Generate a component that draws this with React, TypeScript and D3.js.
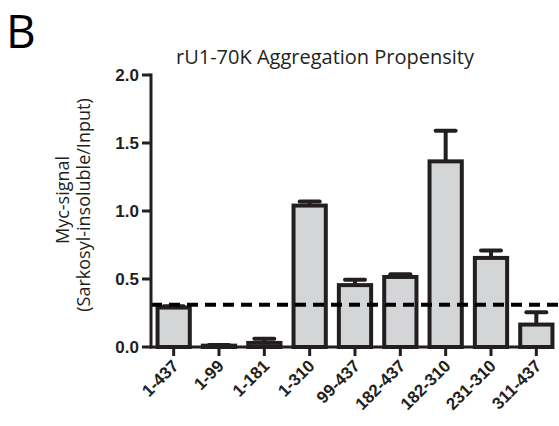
import React from 'react'
import * as d3 from 'd3'

const categories = ['1-437', '1-99', '1-181', '1-310', '99-437', '182-437', '182-310', '231-310', '311-437']
const means = [0.29, 0.01, 0.03, 1.04, 0.455, 0.515, 1.365, 0.655, 0.165]
const errors = [0.01, 0.005, 0.03, 0.03, 0.04, 0.02, 0.225, 0.055, 0.09]
const yTicks = [0, 0.5, 1.0, 1.5, 2.0]
const threshold = 0.31

const W = 559
const H = 426
const ink = '#231f20'

export default function App() {
  const x = d3.scaleBand<string>().domain(categories).range([151, 559]).paddingInner(0.2).paddingOuter(0.1)
  const y = d3.scaleLinear().domain([0, 2]).range([347, 75])
  const bw = x.bandwidth()

  return (
    <svg width={W} height={H} style={{ position: 'absolute', left: 0, top: 0, background: '#fff' }}>
      <text x={6} y={48} fontFamily="Open Sans" fontSize={46} fill="#000">B</text>
      <text x={325} y={64} textAnchor="middle" fontFamily="Open Sans" fontSize={20} fill={ink}>
        rU1-70K Aggregation Propensity
      </text>

      {/* y label */}
      <g transform={`translate(0,205) rotate(-90)`} fontFamily="Open Sans" fontSize={18} fill={ink} textAnchor="middle">
        <text x={5} y={69}>Myc-signal</text>
        <text x={0} y={90}>(Sarkosyl-insoluble/Input)</text>
      </g>

      {/* bars */}
      {categories.map((c, i) => {
        const cx = x(c)! + bw / 2
        const top = y(means[i])
        const cap = y(means[i] + errors[i])
        return (
          <g key={c}>
            <line x1={cx} x2={cx} y1={top} y2={cap} stroke={ink} strokeWidth={4} />
            <line x1={cx - 10} x2={cx + 10} y1={cap} y2={cap} stroke={ink} strokeWidth={4} strokeLinecap="round" />
            <rect x={x(c)! + 2} y={top} width={bw - 4} height={y(0) - top} fill="#d4d5d7" stroke={ink} strokeWidth={4} />
          </g>
        )
      })}

      {/* dashed threshold */}
      <line x1={151} x2={559} y1={y(threshold)} y2={y(threshold)} stroke="#000" strokeWidth={4} strokeDasharray="11,7" />

      {/* y axis */}
      <line x1={151} x2={151} y1={y(2) - 1.5} y2={y(0) + 1.5} stroke={ink} strokeWidth={3} />
      {yTicks.map(t => (
        <g key={t}>
          <line x1={142} x2={151} y1={y(t)} y2={y(t)} stroke={ink} strokeWidth={3} />
          <text x={139} y={y(t) + 6} textAnchor="end" fontFamily="Liberation Sans" fontWeight="bold" fontSize={17} fill={ink}>
            {t.toFixed(1)}
          </text>
        </g>
      ))}

      {/* x axis */}
      <line x1={150} x2={554} y1={y(0)} y2={y(0)} stroke={ink} strokeWidth={3} />
      {categories.map(c => {
        const cx = x(c)! + bw / 2
        return (
          <g key={c}>
            <line x1={cx} x2={cx} y1={y(0)} y2={y(0) + 9} stroke={ink} strokeWidth={3} />
            <text
              transform={`translate(${cx + 6},${y(0) + 20}) rotate(-45)`}
              textAnchor="end"
              fontFamily="Liberation Sans"
              fontWeight="bold"
              fontSize={17}
              fill={ink}
            >
              {c}
            </text>
          </g>
        )
      })}
    </svg>
  )
}
